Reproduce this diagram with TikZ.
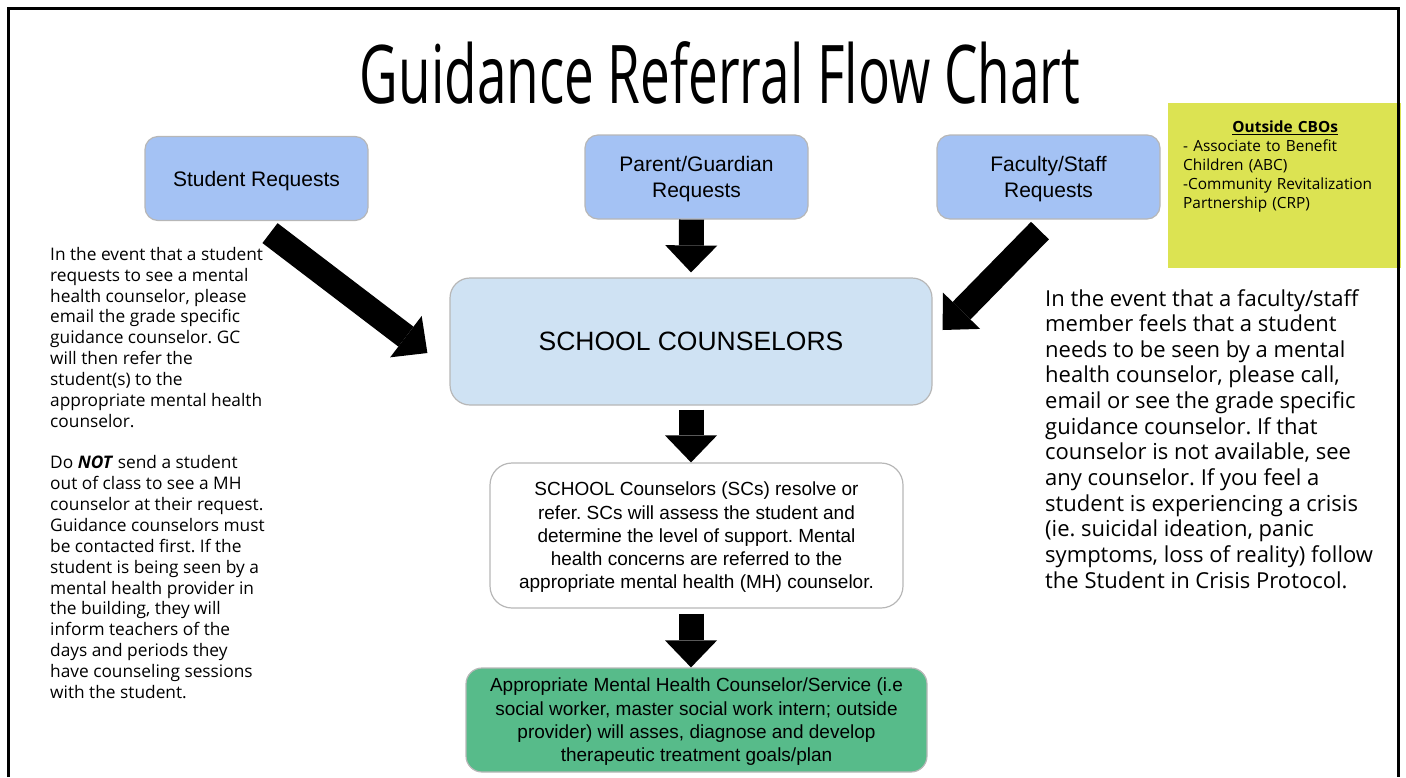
\documentclass[tikz,border=0pt]{standalone}
\usepackage{fontspec}
\usetikzlibrary{arrows.meta}
\setmainfont{Open Sans}
\newfontfamily\arialfont{Liberation Sans}
\newfontfamily\titlefont[FakeStretch=0.655]{Open Sans}
\definecolor{reqblue}{HTML}{A4C2F4}
\definecolor{scblue}{HTML}{CFE2F3}
\definecolor{mhgreen}{HTML}{57BB8A}
\definecolor{cboyellow}{HTML}{DCE352}
\definecolor{boxgray}{HTML}{B7B7B7}
\frenchspacing

\begin{document}
\begin{tikzpicture}[x=1pt, y=-1pt,
  every node/.style={inner sep=0pt},
  flowbox/.style={draw=boxgray, line width=1.2pt, align=center, text depth=0pt,
    font=\arialfont\fontsize{19}{23.3}\selectfont},
  reqbox/.style={flowbox, rounded corners=13pt, fill=reqblue,
    minimum width=223pt, minimum height=84pt,
    font=\arialfont\fontsize{21}{26}\selectfont},
  note/.style={anchor=north west, align=left},
  blockarrow/.style={line width=25pt,
    -{Triangle[length=27pt, width=52pt, line width=0pt]}}]
\useasboundingbox (0,0) rectangle (1406,777);
\node[anchor=base, font=\titlefont\fontsize{81}{81}\selectfont] (T) at (720,103)
  {Guidance Referral Flow Chart};
\node[reqbox] (SR) at (256.5,178.5) {Student Requests};
\node[reqbox] (PR) at (696.5,177) {Parent/Guardian\\Requests};
\node[reqbox] (FR) at (1048.5,177) {Faculty/Staff\\Requests};
\node[fill=cboyellow, minimum width=233pt, minimum height=165pt] (CBO) at (1284.5,185.5) {};
\node[note, text width=204pt, font=\fontsize{15.4}{18.9}\selectfont] (CL) at (1183,121)
  {\makebox[\linewidth][c]{\underline{\textbf{Outside CBOs}}}\\
   - Associate to Benefit\\
   Children (ABC)\\
   -Community Revitalization\\
   Partnership (CRP)};
\node[flowbox, fill=scblue, rounded corners=20pt, minimum width=482pt, minimum height=127pt,
  font=\arialfont\fontsize{26.5}{30}\selectfont] (SC) at (691,341.5) {SCHOOL COUNSELORS};
\node[flowbox, fill=white, rounded corners=22pt, minimum width=413pt, minimum height=145pt] (RS) at (696.5,535.5)
  {SCHOOL Counselors (SCs) resolve or\\
   refer. SCs will assess the student and\\
   determine the level of support. Mental\\
   health concerns are referred to the\\
   appropriate mental health (MH) counselor.};
\node[flowbox, fill=mhgreen, rounded corners=16pt, minimum width=461pt, minimum height=104pt] (MH) at (696.5,720)
  {Appropriate Mental Health Counselor/Service (i.e\\
   social worker, master social work intern; outside\\
   provider) will asses, diagnose and develop\\
   therapeutic treatment goals/plan};
\node[note, font=\fontsize{17.3}{20.86}\selectfont] (SN) at (50,247)
  {In the event that a student\\
   requests to see a mental\\
   health counselor, please\\
   email the grade specific\\
   guidance counselor. GC\\
   will then refer the\\
   student(s) to the\\
   appropriate mental health\\
   counselor.\\[20.86pt]
   Do \textbf{\textit{NOT}} send a student\\
   out of class to see a MH\\
   counselor at their request.\\
   Guidance counselors must\\
   be contacted first. If the\\
   student is being seen by a\\
   mental health provider in\\
   the building, they will\\
   inform teachers of the\\
   days and periods they\\
   have counseling sessions\\
   with the student.};
\node[note, font=\fontsize{22}{25.64}\selectfont] (FN) at (1045,289)
  {In the event that a faculty/staff\\
   member feels that a student\\
   needs to be seen by a mental\\
   health counselor, please call,\\
   email or see the grade specific\\
   guidance counselor. If that\\
   counselor is not available, see\\
   any counselor. If you feel a\\
   student is experiencing a crisis\\
   (ie. suicidal ideation, panic\\
   symptoms, loss of reality) follow\\
   the Student in Crisis Protocol.};
\draw[blockarrow]
  ([shift={(13.5pt,-12pt)}]SR.south) -- ([shift={(-22pt,-11.5pt)}]SC.west);
\draw[blockarrow]
  ([xshift=-5pt]PR.south) -- ([yshift=5pt]SC.north);
\draw[blockarrow]
  ([shift={(-8.5pt,-11pt)}]FR.south) -- ([shift={(10pt,11.5pt)}]SC.east);
\draw[blockarrow]
  ([yshift=-4pt]SC.south) -- (SC.south |- RS.north);
\draw[blockarrow]
  ([shift={(-5.5pt,-5pt)}]RS.south) -- ([xshift=-5.5pt]MH.north);
\draw[line width=3pt] (8,777) -- (8,8) -- (1398,8) -- (1398,777);
\end{tikzpicture}
\end{document}
